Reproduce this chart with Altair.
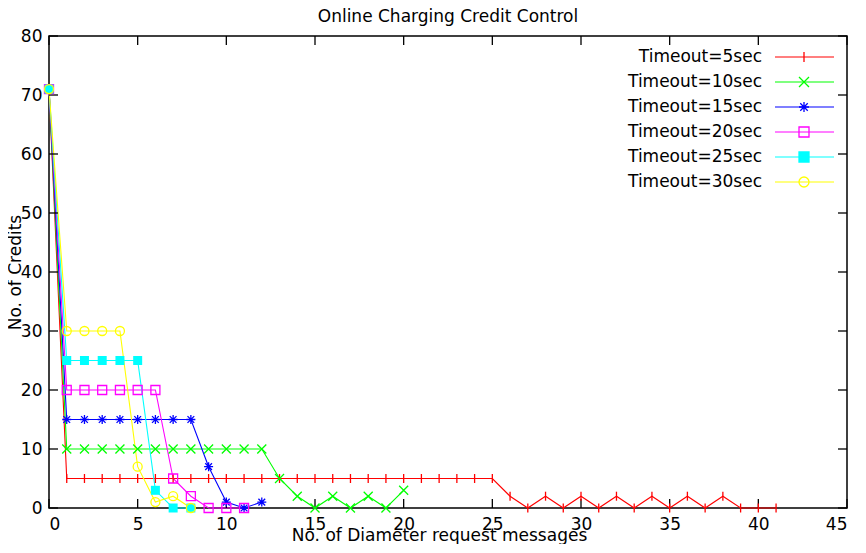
import altair as alt
import pandas as pd

# ---------------- data ----------------
series_names = ["Timeout=5sec", "Timeout=10sec", "Timeout=15sec",
                "Timeout=20sec", "Timeout=25sec", "Timeout=30sec"]

x_5 = [0, 1, 2, 3, 4, 5, 6, 7, 8, 9, 10, 11, 12, 13, 14, 15, 16, 17, 18, 19, 20,
       21, 22, 23, 24, 25, 26, 27, 28, 29, 30, 31, 32, 33, 34, 35, 36, 37, 38, 39, 40, 41]
y_5 = [71, 5, 5, 5, 5, 5, 5, 5, 5, 5, 5, 5, 5, 5, 5, 5, 5, 5, 5, 5, 5,
       5, 5, 5, 5, 5, 2, 0, 2, 0, 2, 0, 2, 0, 2, 0, 2, 0, 2, 0, 0, 0]

x_10 = [0, 1, 2, 3, 4, 5, 6, 7, 8, 9, 10, 11, 12, 13, 14, 15, 16, 17, 18, 19, 20]
y_10 = [71, 10, 10, 10, 10, 10, 10, 10, 10, 10, 10, 10, 10, 5, 2, 0, 2, 0, 2, 0, 3]

x_15 = [0, 1, 2, 3, 4, 5, 6, 7, 8, 9, 10, 11, 12]
y_15 = [71, 15, 15, 15, 15, 15, 15, 15, 15, 7, 1, 0, 1]

x_20 = [0, 1, 2, 3, 4, 5, 6, 7, 8, 9, 10, 11]
y_20 = [71, 20, 20, 20, 20, 20, 20, 5, 2, 0, 0, 0]

x_25 = [0, 1, 2, 3, 4, 5, 6, 7, 8]
y_25 = [71, 25, 25, 25, 25, 25, 3, 0, 0]

x_30 = [0, 1, 2, 3, 4, 5, 6, 7, 8]
y_30 = [71, 30, 30, 30, 30, 7, 1, 2, 0]

x_tick_values = [0, 5, 10, 15, 20, 25, 30, 35, 40, 45]
y_tick_values = [0, 10, 20, 30, 40, 50, 60, 70, 80]

title_text = "Online Charging Credit Control"
x_title = "No. of Diameter request messages"
y_title = "No. of Credits"

# ---------------- styles ----------------
colors = ["#ff0000", "#00ff00", "#0000ff", "#ff00ff", "#00ffff", "#ffff00"]
fills = ["transparent", "transparent", "transparent", "transparent", "#00ffff", "transparent"]
marker_paths = [
    "M0,-1L0,1",
    "M-1,-1L1,1M-1,1L1,-1",
    "M-1,0L1,0M0,-1L0,1M-0.75,-0.75L0.75,0.75M-0.75,0.75L0.75,-0.75",
    "M-1,-1L1,-1L1,1L-1,1Z",
    "M-1,-1L1,-1L1,1L-1,1Z",
    "M1,0A1,1,0,1,1,-1,0A1,1,0,1,1,1,0Z",
]

FONT = "DejaVu Sans"
FS = 17
W, H = 798, 472
TICK = 9
# legend layout (pixels inside the plot area)
LEG_Y_RANGE = [21, 146]
LEG_TEXT_X = 713
LEG_LINE_X1, LEG_LINE_X2 = 726, 785
LEG_MARK_X = 755

xs = [x_5, x_10, x_15, x_20, x_25, x_30]
ys = [y_5, y_10, y_15, y_20, y_25, y_30]
rows = []
for name, xv, yv in zip(series_names, xs, ys):
    for a, b in zip(xv, yv):
        rows.append({"series": name, "x": a, "y": b})
df = pd.DataFrame(rows)
legend_df = pd.DataFrame({"series": series_names})
xt_df = pd.DataFrame({"v": x_tick_values})
yt_df = pd.DataFrame({"v": y_tick_values})

xscale = alt.Scale(domain=[0, 45], nice=False, zero=False)
yscale = alt.Scale(domain=[0, 80], nice=False, zero=False)
color_scale = alt.Scale(domain=series_names, range=colors)
fill_scale = alt.Scale(domain=series_names, range=fills)
shape_scale = alt.Scale(domain=series_names, range=marker_paths)
leg_y_scale = alt.Scale(domain=series_names, range=LEG_Y_RANGE, type="point", padding=0)

base = alt.Chart(df)

x_main = alt.X("x:Q", scale=xscale, axis=alt.Axis(
    orient="bottom", values=x_tick_values, ticks=False, domain=False, grid=False,
    labelPadding=8, labelFontSize=FS, labelFont=FONT, labelColor="black",
    title=x_title, titleFont=FONT, titleFontSize=FS, titleFontWeight="normal",
    titleColor="black", titleX=390, titleY=32, titleBaseline="alphabetic",
    titleAlign="center"))
y_main = alt.Y("y:Q", scale=yscale, axis=alt.Axis(
    orient="left", values=y_tick_values, ticks=False, domain=False, grid=False,
    labelPadding=7, labelFontSize=FS, labelFont=FONT, labelColor="black",
    title=y_title, titleFont=FONT, titleFontSize=FS, titleFontWeight="normal",
    titleColor="black", titleX=-34, titleY=236, titleAngle=-90,
    titleBaseline="middle", titleAlign="center"))

lines = base.mark_line(strokeWidth=1.1).encode(
    x=x_main, y=y_main,
    color=alt.Color("series:N", scale=color_scale, legend=None),
    detail="series:N",
    order="x:Q",
)

point_layers = []
for i, name in enumerate(series_names):
    filled = fills[i] != "transparent"
    pl = base.transform_filter(alt.datum.series == name).mark_point(
        shape=marker_paths[i], size=81, color=colors[i], filled=filled,
        strokeWidth=1.3, opacity=1,
    ).encode(
        x=alt.X("x:Q", scale=xscale, axis=None),
        y=alt.Y("y:Q", scale=yscale, axis=None),
    )
    point_layers.append(pl)

# ---- inward tick marks on all four sides, placed by the axis scales ----
tick_style = dict(color="black", strokeWidth=1.3)
xt = alt.Chart(xt_df)
yt = alt.Chart(yt_df)
xpos = alt.X("v:Q", scale=xscale, axis=None)
ypos = alt.Y("v:Q", scale=yscale, axis=None)
ticks_bottom = xt.mark_rule(**tick_style).encode(
    x=xpos, y=alt.value(H - TICK), y2=alt.value(H))
ticks_top = xt.mark_rule(**tick_style).encode(
    x=xpos, y=alt.value(0), y2=alt.value(TICK))
ticks_left = yt.mark_rule(**tick_style).encode(
    y=ypos, x=alt.value(0), x2=alt.value(TICK))
ticks_right = yt.mark_rule(**tick_style).encode(
    y=ypos, x=alt.value(W - TICK), x2=alt.value(W))

data_layers = alt.layer(
    lines, ticks_bottom, ticks_top, ticks_left, ticks_right, *point_layers
).resolve_axis(x="independent", y="independent")

# ---- legend drawn from the legend table (labels left of line samples) ----
leg_base = alt.Chart(legend_df)
leg_y = alt.Y("series:N", scale=leg_y_scale, axis=None)
leg_text = leg_base.mark_text(
    align="right", baseline="middle", font=FONT, fontSize=FS, color="black"
).encode(x=alt.value(LEG_TEXT_X), y=leg_y, text="series:N")
leg_line = leg_base.mark_rule(strokeWidth=1.2).encode(
    x=alt.value(LEG_LINE_X1), x2=alt.value(LEG_LINE_X2), y=leg_y,
    color=alt.Color("series:N", scale=color_scale, legend=None),
)
leg_mark = leg_base.mark_point(size=100, strokeWidth=1.3, opacity=1).encode(
    x=alt.value(LEG_MARK_X), y=leg_y,
    color=alt.Color("series:N", scale=color_scale, legend=None),
    fill=alt.Fill("series:N", scale=fill_scale, legend=None),
    shape=alt.Shape("series:N", scale=shape_scale, legend=None),
)
legend_layers = alt.layer(leg_line, leg_mark, leg_text)

chart = alt.layer(data_layers, legend_layers).resolve_scale(
    y="independent"
).resolve_axis(
    x="independent", y="independent"
).properties(
    width=W, height=H,
    padding={"left": 41, "top": 28, "right": 11, "bottom": 36},
    autosize=alt.AutoSizeParams(type="none"),
    title=alt.TitleParams(title_text, font=FONT, fontSize=FS, fontWeight="normal",
                          color="black", offset=1, anchor="middle", frame="group"),
).configure(
    background="white"
).configure_view(
    stroke="black", strokeWidth=1.5
)

chart.save("out.html", embed_options={"renderer": "svg", "actions": False})
